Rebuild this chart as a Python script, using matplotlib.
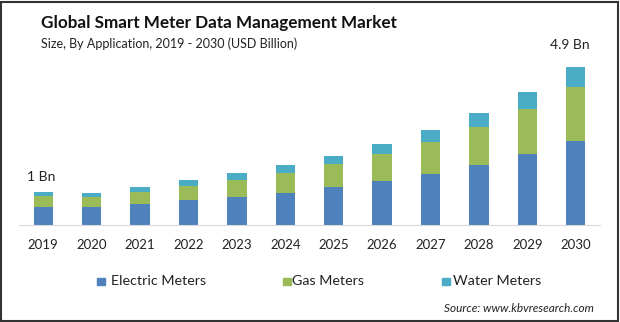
import numpy as np
import matplotlib.pyplot as plt
from matplotlib.patches import Rectangle

plt.rcParams['font.family'] = ['Lato', 'DejaVu Sans']

years = ['2019', '2020', '2021', '2022', '2023', '2024',
         '2025', '2026', '2027', '2028', '2029', '2030']
electric = [0.56, 0.56, 0.65, 0.78, 0.87, 0.99, 1.18, 1.36, 1.58, 1.86, 2.20, 2.61]
gas = [0.34, 0.31, 0.37, 0.43, 0.53, 0.62, 0.71, 0.84, 0.99, 1.18, 1.40, 1.67]
water = [0.12, 0.12, 0.16, 0.19, 0.22, 0.25, 0.25, 0.31, 0.37, 0.43, 0.53, 0.62]
series = ['Electric Meters', 'Gas Meters', 'Water Meters']
colors = ['#4f81bd', '#9bbb59', '#4bacc6']

W, H = 620, 322
fig = plt.figure(figsize=(W / 100, H / 100), dpi=100)

# axes placed in pixel terms: baseline at y=225, plot spans x 19..600
ax = fig.add_axes([19 / W, (H - 225) / H, (600 - 19) / W, 165 / H])
x = np.arange(len(years))
e = np.array(electric)
g = np.array(gas)
w = np.array(water)
ax.bar(x, e, width=0.4, color=colors[0], label=series[0])
ax.bar(x, g, width=0.4, bottom=e, color=colors[1], label=series[1])
ax.bar(x, w, width=0.4, bottom=e + g, color=colors[2], label=series[2])
total = e + g + w

ax.set_xlim(-0.5, 11.5)
ax.set_ylim(0, 5.12)
ax.set_xticks(x)
ax.set_xticklabels(years, fontsize=9.5, color='#222222')
ax.tick_params(axis='x', length=0, pad=10)
ax.set_yticks([])
for s in ['top', 'left', 'right']:
    ax.spines[s].set_visible(False)
ax.spines['bottom'].set_color('#d9d9d9')

ax.text(-0.05, total[0] + 0.48, '1 Bn', ha='center', va='center',
        fontsize=10, color='#222222', clip_on=False)
ax.text(10.87, total[-1] + 0.68, f'{total[-1]:.1f} Bn', ha='center', va='center',
        fontsize=10, color='#222222', clip_on=False)

fig.text(41 / W, 1 - 23 / H, 'Global Smart Meter Data Management Market',
         fontsize=12.3, fontweight='bold', color='#111111', va='center')
fig.text(41 / W, 1 - 44 / H, 'Size, By Application, 2019 - 2030 (USD Billion)',
         fontsize=9, color='#222222', va='center')

# legend entries laid out by hand along the bottom
box_x = [97, 283, 442]
text_x = [111, 292, 453]
for bx, tx, name, c in zip(box_x, text_x, series, colors):
    fig.patches.append(Rectangle((bx / W, 1 - 285 / H), 7.5 / W, 7 / H,
                                 transform=fig.transFigure, color=c))
    fig.text(tx / W, 1 - 281 / H, name, fontsize=10.3, color='#222222',
             va='center')

fig.text(594 / W, 1 - 308 / H, 'Source: www.kbvresearch.com', fontsize=8.5,
         style='italic', color='#222222', ha='right', va='center')

fig.patches.append(Rectangle((1 / W, 1 / H), (W - 3) / W, (H - 3) / H,
                             transform=fig.transFigure, fill=False,
                             edgecolor='#333333', linewidth=1.5))

fig.savefig('out.png', dpi=100)
